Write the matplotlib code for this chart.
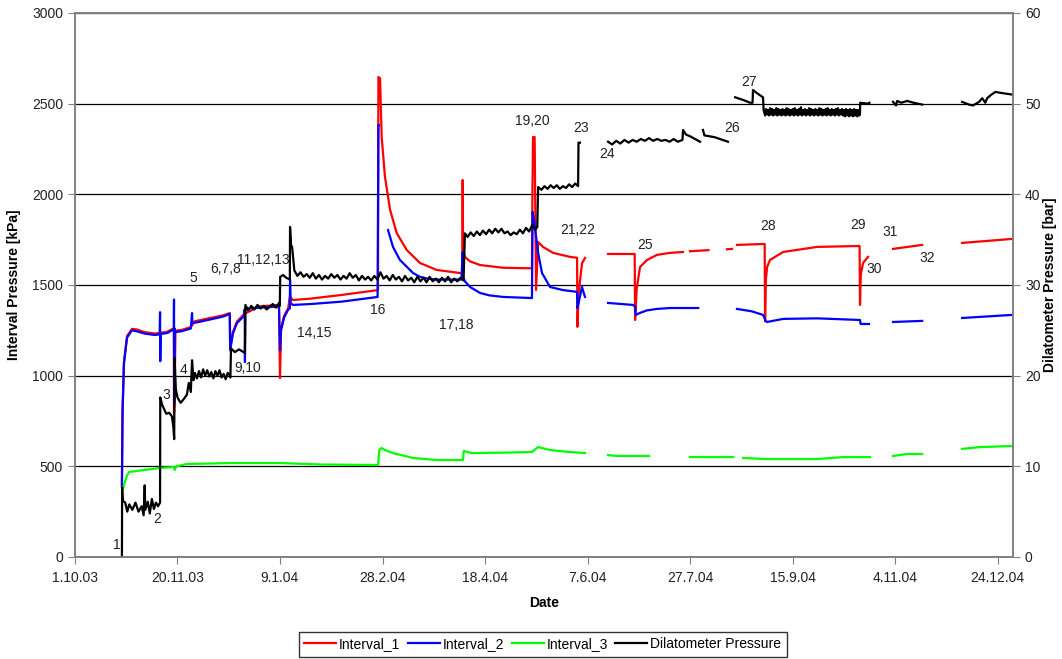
from datetime import datetime, timedelta

import numpy as np
from matplotlib import pyplot as plt

plt.rcParams['font.family'] = ['Liberation Sans', 'DejaVu Sans']

nan = np.nan
start = datetime(2003, 10, 1)

# days after 1.10.03 / interval pressure in kPa
int1_day = [22.9, 23.2, 23.9, 25.4, 27.8, 30, 34, 39, 45, 47.3, 48.2, 48.3, 48.6, 49, 52, 56.5,
            58.5, 66, 72, 75.5, 75.7, 77, 79, 82.5, 90, 99.5, 100, 100.3, 100.5, 102, 104, 104.9,
            105.2, 106.3, 115, 130, 147.8, 148.0, 148.8, 149.6, 151.2, 153.7, 156.9, 161.8, 168.3,
            176.4, 187.8, 188.9, 189.1, 189.3, 190.2, 192.7, 197.6, 208.8, 222.9, 223.1, 223.4,
            224.2, 224.9, 225.9, 228.3, 233.2, 241.5, 244.9, 245.1, 245.6, 247.3, 248.8, 254,
            260, 273.0, 273.2, 274, 275.6, 279, 283.9, 290.2, 296.6, 298, 300, 309, 310, 318,
            320.5, 321.5, 322.9, 335.6, 336.4, 336.6, 337, 337.6, 339, 345.4, 362, 382.7, 382.9,
            383.3, 384.4, 386.8, 392, 399, 413.2, 420, 432.7, 457.1]
int1_val = [395, 810, 1075, 1218, 1258, 1255, 1240, 1232, 1242, 1256, 1260, 790, 870, 1248, 1252, 1268,
            1300, 1318, 1332, 1345, 1150, 1240, 1298, 1340, 1382, 1390, 987, 1140, 1260, 1330, 1372, 1440,
            1430, 1417, 1425, 1445, 1472, 2647, 2640, 2316, 2096, 1914, 1787, 1693, 1621,
            1583, 1566, 1566, 2079, 1700, 1655, 1630, 1610, 1595, 1592, 1969, 2316,
            2316, 1472, 1737, 1710, 1677, 1655, 1650, 1269, 1450, 1620, 1649, nan,
            1671, 1671, 1307, 1480, 1599, 1638, 1666, 1677, 1682, nan, 1686, 1692, nan, 1697,
            1699, nan, 1721, 1726, 1726, 1300, 1530, 1599, 1638, 1682, 1710, 1715, 1390,
            1560, 1621, 1655, nan, 1699, 1721, nan, 1732, 1754]

int2_day = [22.9, 23.2, 23.9, 25.4, 27.8, 30, 34, 39, 41.3, 41.5, 41.6, 41.8, 45, 47.3, 48.2, 48.3,
            48.4, 48.6, 49, 52, 56.5, 57.1, 57.3, 60, 66, 72, 75.5, 75.7, 77, 79, 82.5, 82.8, 82.9,
            83.1, 90, 99.5, 100, 100.5, 102, 104, 104.8, 104.9, 105.2, 106.3, 115, 130, 147.6,
            148.0, 148.3, 150, 152.7, 155.1, 158.5, 164.9, 168.3, 172, 176.4, 188.5, 189.1, 189.4,
            190.2, 192.7, 197.6, 202, 208.8, 222.9, 223.2, 224, 225.9, 227.8, 231.7, 238, 244.9,
            245.1, 246, 247.3, 248.3, 248.8, 254, 260, 272.2, 273.2, 273.5, 275.6, 279, 283.9,
            290.2, 304, 305, 321, 322.5, 322.9, 330, 335.6, 337, 337.6, 345.4, 362, 382.9, 383.2,
            387.3, 392, 399, 413.2, 420, 432.7, 457.1]
int2_val = [390, 800, 1070, 1210, 1250, 1245, 1232, 1224, 1228, 1350, 1080, 1230, 1235, 1250, 1255, 1420,
            850, 1260, 1240, 1245, 1260, 1345, 1290, 1295, 1310, 1325, 1340, 1140, 1230, 1290, 1330, 1365, 1075,
            1370, 1375, 1382, 1140, 1250, 1320, 1365, 1370, 1530, 1400, 1390, 1395, 1408, 1434,
            2382, 2382, nan, 1803, 1710, 1638, 1566, 1545, 1535, 1530, 1530, 1682, 1540,
            1520, 1489, 1456, 1443, 1434, 1428, 1903, 1850, 1677, 1566, 1489, 1472, 1462,
            1373, 1420, 1489, 1450, 1434, nan, 1401, 1390, 1380, 1335, 1346, 1360, 1368,
            1373, 1373, nan, 1373, nan, 1368, 1355, 1335, 1300, 1296, 1313, 1316, 1307, 1285,
            1285, nan, 1296, 1302, nan, 1318, 1335]

int3_day = [22.9, 23.5, 24.5, 25.4, 26.5, 30, 41.5, 48.3, 48.6, 49.5, 54.6, 60, 76, 100, 120, 147.8,
            148.5, 149.5, 151.2, 155.1, 164.9, 176.4, 189.3, 189.6, 193.7, 212.2, 222.9, 225.9,
            231.7, 240, 248.8, 254, 260, 264.4, 280, 281, 295.1, 297, 300, 321, 322, 325.9, 337.6,
            362, 374.6, 387.8, 392, 399, 405.9, 413.2, 420, 432.7, 441.5, 457.1]
int3_val = [386, 380, 420, 450, 469, 474, 491, 496, 480, 500, 513, 514, 518, 518, 510, 507,
            590, 601, 590, 573, 546, 535, 535, 584, 573, 576, 579, 606,
            590, 580, 573, nan, 562, 557, 557, nan, 557, nan, 551, 551, nan, 546, 540,
            540, 551, 551, nan, 557, 568, 568, nan, 596, 606, 612]

# dilatometer pressure in bar
dil_day = [22.9, 23.0, 23.3, 24.5, 25.5, 26.5, 28, 29.5, 31, 32.5, 33.5, 34, 34.3, 35.5, 36.5, 37.5,
           38.5, 39.5, 40.5, 41.5, 41.6, 42.5, 43.5, 44.5, 46, 47.3, 48.0, 48.4, 48.6, 49.2, 50, 51.5,
           53, 54.6, 55.5, 56.5, 57.1, 57.8,
           58.5, 59.5, 60.5, 61.5, 62.5, 63.5, 64.5, 65.5, 66.5, 67.5, 68.5, 69.5, 70.5, 71.5, 72.5,
           73.5, 74.5, 75.6, 75.8, 76.1, 78, 80, 82.9,
           83.1, 84.5, 86, 87.5, 89, 90.5, 92, 93.5, 95, 96.5, 98, 99.5, 99.9,
           100.1, 101.5, 103, 104.8, 104.9, 105.4, 105.9,
           107, 108.5, 110, 111.5, 113, 114.5, 116, 117.5, 119, 120.5, 122, 123.5, 125, 126.5, 128,
           129.5, 131, 132.5, 134, 135.5, 137, 138.5, 140, 141.5, 143, 144.5, 146, 147.5, 149, 150.5,
           152, 153.5, 155, 156.5, 158, 159.5, 161, 162.5, 164, 165.5, 167, 168.5, 170, 171.5, 173,
           174.5, 176, 177.5, 179, 180.5, 182, 183.5, 185, 186.5, 188, 189.5,
           190.2, 191.5, 193, 194.5, 196, 197.5, 199, 200.5, 202, 203.5, 205, 206.5, 208, 209.5, 211,
           212.5, 214, 215.5, 217, 218.5, 220, 221.5, 223, 224.5, 225.5,
           225.9, 227.5, 229, 230.5, 232, 233.5, 235, 236.5, 238, 239.5, 241, 242.5, 244, 245.4,
           245.6, 246.3, 253,
           260, 262, 264, 266, 268, 270, 272, 274, 276, 278, 280, 282, 284, 286, 288, 290, 292, 294,
           296.3, 296.6, 298, 300, 304.9, 305.5, 306.3, 307, 312, 318.5, 320, 322,
           326, 329.3, 330.5, 330.7, 333, 335.6, 335.9,
           336.6, 337.1, 337.6, 338.1, 338.6, 339.1, 339.6, 340.1, 340.6, 341.1, 341.6, 342.1, 342.6,
           343.1, 343.6, 344.1, 344.6, 345.1, 345.6, 346.1, 346.6, 347.1, 347.6, 348.1, 348.6, 349.1,
           349.6, 350.1, 350.6, 351.1, 351.6, 352.1, 352.6, 353.1, 353.6, 354.1, 354.6, 355.1, 355.6,
           356.1, 356.6, 357.1, 357.6, 358.1, 358.6, 359.1, 359.6, 360.1, 360.6, 361.1, 361.6, 362.1,
           362.6, 363.1, 363.6, 364.1, 364.6, 365.1, 365.6, 366.1, 366.6, 367.1, 367.6, 368.1, 368.6,
           369.1, 369.6, 370.1, 370.6, 371.1, 371.6, 372.1, 372.6, 373.1, 373.6, 374.1, 374.6, 375.1,
           375.6, 376.1, 376.6, 377.1, 377.6, 378.1, 378.6, 379.1, 379.6, 380.1, 380.6, 381.1, 381.6,
           382.1, 382.6, 382.9,
           383.0, 386.8, 387.5, 392, 399, 400.5, 401, 403, 405.9, 409, 413.2, 420, 432.7, 436, 438,
           441, 442.5, 444, 444.9, 447, 449, 451.2, 454, 457.1]
dil_val = [0, 7.7, 6.2, 6.0, 5.0, 5.8, 5.2, 6.0, 5.0, 5.6, 4.6, 7.9, 5.2, 6.1, 4.8, 6.4,
           5.3, 6.0, 5.6, 6.0, 17.6, 16.8, 16.3, 15.8, 15.9, 15.5, 14.3, 13.0, 21.9, 18.5, 17.6, 17.0,
           17.4, 17.9, 19.2, 18.2, 21.7, 19.5,
           20.3, 19.7, 20.5, 19.8, 20.7, 20.0, 20.6, 19.9, 20.4, 19.7, 20.5, 20.0, 20.6, 19.8, 20.2,
           19.6, 20.3, 20.0, 19.8, 23.0, 22.6, 22.9, 22.5,
           27.8, 27.2, 27.7, 27.3, 27.8, 27.4, 27.7, 27.3, 27.6, 27.9, 27.5, 28.0, 27.7,
           30.9, 31.1, 30.8, 30.6, 36.4, 34.4, 34.2,
           31.6, 31.0, 31.4, 30.9, 31.2, 30.8, 31.3, 30.7, 31.1, 30.6, 31.0, 30.7, 31.2, 30.8, 31.1,
           30.6, 31.0, 30.7, 31.3, 30.8, 31.1, 30.5, 31.0, 30.6, 30.9, 30.5, 31.0, 30.6, 31.4, 30.7,
           31.0, 30.5, 31.1, 30.6, 30.9, 30.4, 31.0, 30.5, 30.8, 30.3, 30.9, 30.4, 30.8, 30.3, 30.9,
           30.4, 30.7, 30.3, 30.8, 30.4, 30.9, 30.3, 30.7, 30.4, 30.8, 30.5,
           35.7, 35.3, 35.8, 35.4, 35.9, 35.5, 36.0, 35.6, 36.1, 35.7, 36.2, 35.8, 36.2, 35.7, 35.9,
           35.5, 35.8, 35.6, 36.1, 35.7, 36.3, 35.9, 36.6, 36.1, 36.4,
           40.8, 40.5, 40.9, 40.6, 41.0, 40.7, 41.0, 40.6, 40.9, 40.7, 41.1, 40.8, 41.2, 40.9,
           45.7, 45.7, nan,
           45.8, 45.5, 45.9, 45.6, 46.0, 45.7, 46.0, 45.8, 46.1, 45.9, 46.2, 45.9, 46.1, 45.9, 46.0,
           45.8, 46.1, 45.8,
           46.0, 47.1, 46.6, 46.4, 45.8, nan, 47.1, 46.5, 46.3, 45.8, nan, 50.7,
           50.4, 50.1, 50.1, 51.5, 51.1, 50.7, 49.3,
           48.7, 49.4, 48.8, 49.3, 48.7, 49.5, 48.8, 49.4, 48.7, 49.3, 48.8, 49.5, 48.7,
           49.4, 48.8, 49.3, 48.7, 49.4, 48.8, 49.3, 48.7, 49.5, 48.8, 49.4, 48.7, 49.3,
           48.8, 49.4, 48.7, 49.5, 48.8, 49.3, 48.7, 49.4, 48.8, 49.6, 48.7, 49.3, 48.8,
           49.4, 48.7, 49.3, 48.8, 49.5, 48.7, 49.4, 48.8, 49.3, 48.7, 49.4, 48.8, 49.3,
           48.7, 49.5, 48.8, 49.4, 48.7, 49.3, 48.8, 49.4, 48.7, 49.5, 48.8, 49.3, 48.7,
           49.4, 48.8, 49.3, 48.7, 49.4, 48.8, 49.5, 48.7, 49.3, 48.8, 49.4, 48.7, 49.3,
           48.6, 49.4, 48.7, 49.3, 48.6, 49.4, 48.7, 49.3, 48.6, 49.4, 48.7, 49.3, 48.6,
           49.3, 48.7, 49.0,
           50.1, 50.0, 50.1, nan, 50.2, 49.8, 50.3, 50.1, 50.3, 50.1, 49.9, nan, 50.2, 49.9, 49.8,
           50.2, 50.6, 50.1, 50.6, 51.0, 51.3, 51.2, 51.1, 51.0]

# event numbers: text, day, kPa
ev_text = ['1', '2', '3', '4', '5', '6,7,8', '9,10', '11,12,13', '14,15', '16', '17,18', '19,20',
           '21,22', '23', '24', '25', '26', '27', '28', '29', '30', '31', '32']
ev_day = [20.5, 40, 44.4, 52.7, 57.6, 73.7, 84.4, 91.7, 116.6, 147.8, 186, 223,
          245, 247, 259.5, 278, 320.5, 328.8, 338, 382, 390, 397.6, 415.6]
ev_kpa = [66, 210, 893, 1031, 1539, 1588, 1042, 1638, 1235, 1362, 1279, 2404,
          1803, 2366, 2222, 1721, 2366, 2620, 1825, 1831, 1588, 1792, 1649]

tick_days = list(range(0, 451, 50))

fig = plt.figure(figsize=(10.62, 6.59), dpi=100)
ax = fig.add_axes([0.0706, 0.1548, 0.8834, 0.8255])
ax2 = ax.twinx()

lw = 1.6
l1, = ax.plot(int1_day, int1_val, color='#ff0000', lw=lw, label='Interval_1')
l2, = ax.plot(int2_day, int2_val, color='#0000ff', lw=lw, label='Interval_2')
l3, = ax.plot(int3_day, int3_val, color='#00ff00', lw=lw, label='Interval_3')
l4, = ax2.plot(dil_day, dil_val, color='black', lw=lw, label='Dilatometer Pressure')

for t, d, v in zip(ev_text, ev_day, ev_kpa):
    ax.text(d, v, t, ha='center', va='center', fontsize=10, color='#222222')

ax.set_xlim(0, 457.6)
ax.set_ylim(0, 3000)
ax2.set_ylim(0, 60)
ax.set_yticks(range(0, 3001, 500))
ax2.set_yticks(range(0, 61, 10))
ax.set_xticks(tick_days)
ax.set_xticklabels([f'{(start + timedelta(days=d)).day}.{(start + timedelta(days=d)).month}.'
                    f'{(start + timedelta(days=d)).year % 100:02d}' for d in tick_days])

ax.yaxis.grid(True, color='black', lw=0.9)
ax.set_axisbelow(True)
for a in (ax, ax2):
    for s in a.spines.values():
        s.set_color('#808080')
        s.set_linewidth(1.2)
    a.tick_params(direction='out', length=5, color='#808080', labelsize=10, labelcolor='#222222')
ax.tick_params(axis='x', pad=5)

ax.set_xlabel('Date', fontsize=10, fontweight='bold', labelpad=8)
ax.set_ylabel('Interval Pressure [kPa]', fontsize=10, fontweight='bold', labelpad=8)
ax2.set_ylabel('Dilatometer Pressure [bar]', fontsize=10, fontweight='bold', labelpad=2)

leg = fig.legend(handles=[l1, l2, l3, l4], loc='lower center', bbox_to_anchor=(0.511, -0.001),
                 ncol=4, fontsize=10, frameon=True, fancybox=False, handlelength=2.3,
                 columnspacing=0.55, handletextpad=0.2, borderpad=0.4, borderaxespad=0.2)
leg.get_frame().set_edgecolor('black')
leg.get_frame().set_linewidth(1.0)

fig.savefig('out.png', dpi=100)
